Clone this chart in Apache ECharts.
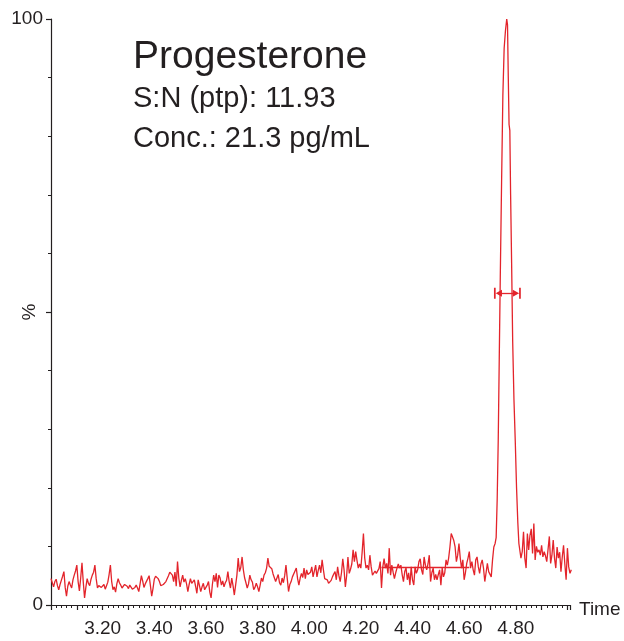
<!DOCTYPE html>
<html>
<head>
<meta charset="utf-8">
<script src="https://cdn.jsdelivr.net/npm/echarts@6/dist/echarts.min.js"></script>
<style>
  html, body { margin: 0; padding: 0; background: #ffffff; }
  #chart { width: 624px; height: 641px; }
</style>
</head>
<body>
<div id="chart"></div>
<script>
// ---- data ----
// noise before the peak: times 3.000 .. 4.715, step 0.005
var noiseAStart = 3.000;
var noiseStep = 0.005;
var noiseA = [
  4.5, 3.8, 3.1, 4.0, 4.4, 3.3, 2.6, 3.5, 4.2, 4.9,
  5.7, 3.0, 1.5, 3.2, 4.0, 3.4, 2.9, 4.3, 5.1, 5.8,
  6.8, 4.0, 2.4, 4.6, 7.2, 3.9, 1.2, 3.0, 4.5, 3.7,
  3.3, 4.4, 5.1, 5.6, 6.8, 4.5, 2.9, 3.3, 3.6, 3.0,
  3.2, 3.5, 2.7, 3.3, 3.9, 5.2, 6.8, 4.0, 2.6, 3.1,
  2.2, 3.6, 4.5, 3.8, 3.4, 2.9, 3.0, 3.5, 3.8, 3.2,
  2.8, 3.4, 3.1, 2.7, 2.5, 3.0, 3.4, 2.9, 2.3, 3.6,
  5.0, 4.1, 3.0, 3.6, 3.8, 4.5, 5.0, 3.3, 1.5, 2.8,
  4.4, 4.9, 5.1, 4.5, 4.0, 3.3, 3.0, 3.5, 3.8, 4.0,
  4.2, 5.0, 5.6, 5.9, 5.1, 4.0, 5.6, 3.2, 7.4, 4.6,
  3.1, 4.2, 5.1, 3.9, 4.5, 3.6, 2.3, 3.5, 4.5, 3.7,
  4.0, 4.3, 3.2, 2.0, 4.3, 3.3, 2.3, 3.1, 3.7, 2.6,
  3.0, 3.4, 4.0, 2.2, 1.2, 3.5, 5.1, 4.0, 5.4, 3.0,
  5.1, 4.6, 3.4, 4.1, 3.1, 3.8, 4.2, 5.7, 4.0, 2.9,
  4.6, 3.3, 1.7, 3.4, 5.1, 8.0, 5.7, 6.4, 8.2, 6.0,
  4.6, 3.8, 2.9, 3.6, 5.1, 4.3, 3.9, 2.6, 3.0, 3.7,
  3.1, 2.3, 3.4, 4.6, 4.0, 5.1, 5.5, 6.3, 8.0, 6.6,
  6.8, 6.2, 5.3, 5.1, 4.0, 4.6, 5.2, 3.8, 3.4, 4.6,
  3.8, 5.0, 6.8, 4.5, 2.3, 3.5, 4.0, 4.8, 5.1, 5.8,
  6.3, 4.5, 3.4, 4.6, 5.4, 4.7, 6.3, 4.5, 6.0, 5.2,
  5.1, 5.6, 6.5, 4.8, 4.8, 6.8, 4.8, 5.9, 6.8, 5.5,
  7.7, 6.0, 4.5, 4.8, 4.3, 3.7, 3.4, 4.2, 4.8, 5.3,
  5.7, 4.3, 6.5, 5.0, 4.0, 5.5, 7.9, 6.0, 3.1, 5.0,
  8.2, 5.4, 6.1, 7.0, 9.4, 7.4, 9.1, 7.6, 6.3, 7.0,
  6.3, 9.0, 12.2, 8.0, 6.3, 6.8, 6.0, 8.5, 6.5, 5.1,
  5.1, 5.8, 5.4, 5.7, 6.2, 7.4, 2.9, 6.5, 7.9, 6.3,
  7.1, 5.4, 9.7, 5.1, 6.8, 5.6, 4.5, 5.5, 6.3, 7.0,
  6.3, 6.8, 5.2, 4.0, 5.7, 6.3, 4.3, 5.5, 3.4, 6.5,
  4.3, 3.4, 6.5, 5.4, 6.0, 7.4, 7.9, 6.0, 5.2, 8.2,
  6.8, 6.0, 7.0, 8.5, 4.0, 5.5, 6.3, 4.3, 5.2, 4.3,
  5.2, 6.0, 3.4, 6.3, 4.8, 5.5, 7.7, 6.8, 8.0, 9.9,
  12.2, 12.5, 11.0, 9.9, 7.4, 8.5, 10.5, 8.0, 6.3, 7.7,
  4.3, 5.5, 7.1, 8.0, 9.1, 6.3, 7.4, 6.0, 5.1, 7.7,
  8.2, 6.5, 5.4, 7.0, 7.7, 6.3, 4.0, 5.5, 7.1, 5.7,
  5.4, 4.8, 7.7, 9.9
];
// the peak itself
var peakTimes = [4.720, 4.724, 4.728, 4.732, 4.736, 4.740, 4.745, 4.750, 4.755, 4.760, 4.765,
                 4.768, 4.771, 4.774, 4.777, 4.780, 4.784, 4.788, 4.793, 4.798, 4.803, 4.808, 4.812];
var peakValues = [10.5, 11.5, 18, 28, 42, 56, 72, 87, 95, 98, 100,
                  99, 90, 82, 81, 70, 58, 45, 35, 28, 20, 14, 10.5];
// noise after the peak: times 4.815 .. 5.015, step 0.005
var noiseBStart = 4.815;
var noiseB = [
  10.5, 8.0, 9.1, 12.5, 8.0, 6.3, 12.2, 9.4, 11.9, 13.0,
  8.8, 13.9, 7.7, 10.0, 9.0, 9.4, 8.5, 10.2, 8.2, 9.1,
  8.4, 7.4, 9.5, 11.7, 7.1, 8.5, 11.1, 8.0, 6.3, 9.9,
  8.0, 9.0, 5.7, 8.2, 10.2, 7.0, 4.3, 9.7, 6.5, 5.4,
  6.0
];
// integration baseline and peak width marker
var baselineStart = [4.28, 6.5];
var baselineEnd = [4.62, 6.5];
var widthStart = [4.731, 53.2];
var widthEnd = [4.804, 53.2];

var xTickLabels = ['3.20', '3.40', '3.60', '3.80', '4.00', '4.20', '4.40', '4.60', '4.80'];
var yTickLabels = ['0', '100'];

var compoundName = 'Progesterone';
var snText = 'S:N (ptp): 11.93';
var concText = 'Conc.: 21.3 pg/mL';

// ---- build series data ----
var seriesData = [];
noiseA.forEach(function (v, i) { seriesData.push([+(noiseAStart + i * noiseStep).toFixed(3), v]); });
peakTimes.forEach(function (t, i) { seriesData.push([t, peakValues[i]]); });
noiseB.forEach(function (v, i) { seriesData.push([+(noiseBStart + i * noiseStep).toFixed(3), v]); });

var RED = '#e3242b';
var INK = '#231f20';
var FONT = '"Liberation Sans", Arial, Helvetica, sans-serif';
var capSymbol = 'path://M-5,0 L5,0 L5,1.5 L-5,1.5 Z M0,1.5 L-3.2,7 L3.2,7 Z';

var chart = echarts.init(document.getElementById('chart'), null, { renderer: 'canvas' });
chart.setOption({
  animation: false,
  backgroundColor: '#ffffff',
  grid: { left: 51, right: 54, top: 19, bottom: 36, containLabel: false, outerBoundsMode: 'none' },
  xAxis: {
    type: 'value',
    min: 3.0,
    max: 5.01,
    interval: 0.1,
    name: 'Time',
    nameLocation: 'end',
    nameGap: 9,
    nameMoveOverlap: false,
    nameTextStyle: { fontSize: 19, color: INK, fontFamily: FONT, verticalAlign: 'top', lineHeight: 10 },
    axisLine: { show: true, lineStyle: { color: INK, width: 1.2 } },
    axisTick: { show: true, length: 5, lineStyle: { color: INK, width: 1.2 } },
    minorTick: { show: true, splitNumber: 5, length: 3, lineStyle: { color: INK, width: 1 } },
    splitLine: { show: false },
    minorSplitLine: { show: false },
    axisLabel: {
      fontSize: 19, color: INK, fontFamily: FONT, margin: 14,
      showMinLabel: false, showMaxLabel: false,
      formatter: function (v) {
        var s = v.toFixed(2);
        return xTickLabels.indexOf(s) >= 0 ? s : '';
      }
    }
  },
  yAxis: {
    type: 'value',
    min: 0,
    max: 100,
    interval: 50,
    name: '%',
    nameLocation: 'middle',
    nameGap: 12,
    nameRotate: 90,
    nameMoveOverlap: false,
    nameTextStyle: { fontSize: 19, color: INK, fontFamily: FONT },
    axisLine: { show: true, lineStyle: { color: INK, width: 1.2 } },
    axisTick: { show: true, length: 5, lineStyle: { color: INK, width: 1.2 } },
    minorTick: { show: true, splitNumber: 5, length: 3, lineStyle: { color: INK, width: 1 } },
    splitLine: { show: false },
    axisLabel: {
      fontSize: 19, color: INK, fontFamily: FONT, margin: 8,
      formatter: function (v) {
        var s = String(v);
        return yTickLabels.indexOf(s) >= 0 ? s : '';
      }
    }
  },
  graphic: [
    { type: 'text', left: 133, top: 38, style: { text: compoundName, font: '39px ' + FONT, fill: INK } },
    { type: 'text', left: 133, top: 84, style: { text: snText, font: '29px ' + FONT, fill: INK } },
    { type: 'text', left: 133, top: 124, style: { text: concText, font: '29px ' + FONT, fill: INK } }
  ],
  series: [{
    type: 'line',
    data: seriesData,
    showSymbol: false,
    symbol: 'none',
    lineStyle: { color: RED, width: 1.3 },
    markLine: {
      silent: true,
      animation: false,
      label: { show: false },
      emphasis: { disabled: true },
      lineStyle: { color: RED, width: 1.3, type: 'solid' },
      data: [
        [ { coord: baselineStart, symbol: 'none' }, { coord: baselineEnd, symbol: 'none' } ],
        [ { coord: widthStart, symbol: capSymbol, symbolSize: [11, 8] },
          { coord: widthEnd, symbol: capSymbol, symbolSize: [11, 8] } ]
      ]
    }
  }]
});
</script>
</body>
</html>
